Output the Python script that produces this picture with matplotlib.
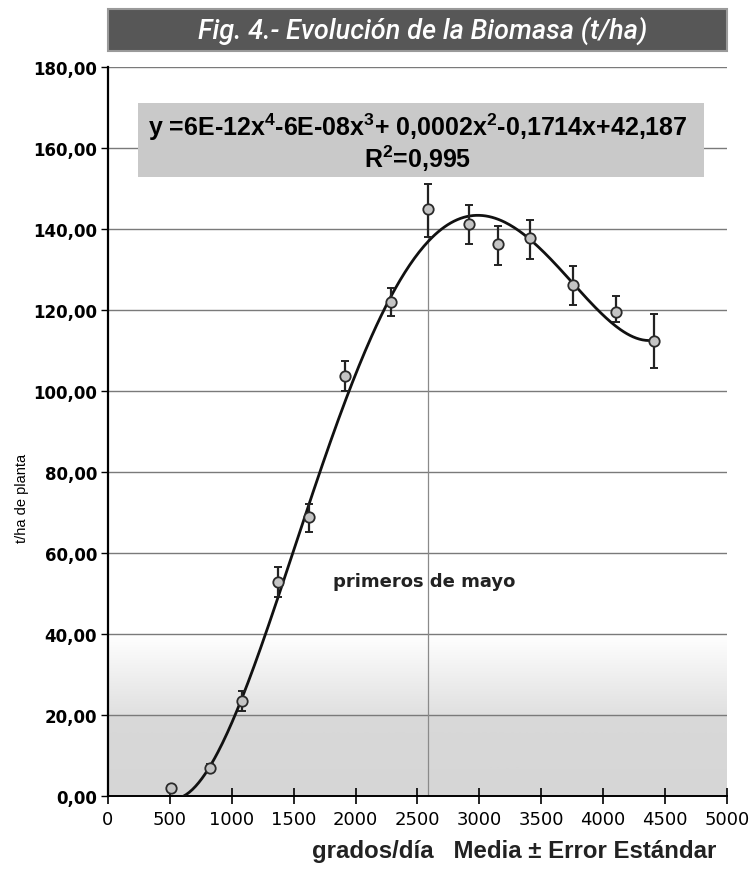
"""Fig. 4 - Evolucion de la Biomasa (t/ha): media +- error estandar y ajuste polinomico."""
import numpy as np
import matplotlib
matplotlib.use("Agg")
import matplotlib.pyplot as plt
from matplotlib.patches import Rectangle
from matplotlib.colors import LinearSegmentedColormap

plt.rcParams["mathtext.fontset"] = "custom"
plt.rcParams["mathtext.rm"] = "Liberation Sans:bold"
plt.rcParams["mathtext.it"] = "Liberation Sans:bold"

# grados/dia, biomasa media (t/ha) y limites de la barra de error
gdias = [509, 824, 1082, 1373, 1624, 1914, 2286, 2585, 2916, 3150, 3408, 3756, 4103, 4410]
biomasa = [2.0, 6.9, 23.5, 52.8, 68.9, 103.7, 122.0, 145.0, 141.2, 136.3, 137.8, 126.2, 119.5, 112.3]
err_hi = [0.8, 1.0, 2.5, 3.7, 3.2, 3.7, 3.5, 6.0, 4.8, 4.4, 4.4, 4.7, 4.0, 6.7]
err_lo = [0.8, 1.0, 2.5, 3.7, 3.7, 3.7, 3.5, 7.0, 4.9, 5.3, 5.2, 5.0, 2.5, 6.6]

# linea de tendencia tal como se ve en la figura (polinomio de grado 4)
ajuste_x = [580, 816, 1082, 1365, 1624, 1914, 2286, 2585, 2950, 3408, 3756, 4103, 4410]
ajuste_y = [0.0, 6.5, 22.5, 51.5, 69.0, 100.0, 120.7, 138.3, 143.3, 137.5, 125.5, 117.5, 112.0]

yticks = np.arange(0, 181, 20)
xticks = np.arange(0, 5001, 500)

TITULO = "Fig. 4.- Evolución de la Biomasa (t/ha)"
ECUACION = r"y =6E-12x$^4$-6E-08x$^3$+ 0,0002x$^2$-0,1714x+42,187"
R2 = r"R$^2$=0,995"

fig = plt.figure(figsize=(7.5, 8.87), dpi=100)
ax = fig.add_axes([0.144, 0.1015, 0.825, 0.8218])
ax.set_xlim(0, 5000)
ax.set_ylim(0, 180)

# fondo degradado gris en la parte baja
grad = np.linspace(0, 1, 200).reshape(-1, 1)
cmap = LinearSegmentedColormap.from_list("g", ["#d4d4d4", "#d9d9d9", "#ececec", "#ffffff"])
top = np.where(grad < 0.5, 0.15 + grad * 0.3, 0.45 + (grad - 0.5) * 1.1)
ax.imshow(top, extent=[0, 5000, 0, 40], origin="lower", aspect="auto",
          cmap=cmap, vmin=0, vmax=1, zorder=0)

for yv in yticks[1:]:
    ax.axhline(yv, color="#7a7a7a", lw=1.0, zorder=1)
ax.vlines(gdias[7], 0, biomasa[7], color="#8a8a8a", lw=0.9, zorder=1)

coef = np.polyfit(ajuste_x, ajuste_y, 4)
xs = np.linspace(ajuste_x[0], ajuste_x[-1], 300)
ax.plot(xs, np.polyval(coef, xs), color="#111111", lw=2.0, zorder=3)

ax.errorbar(gdias, biomasa, yerr=[err_lo, err_hi], fmt="none", ecolor="#222222",
            elinewidth=1.6, capsize=3, capthick=1.4, zorder=4)
ax.plot(gdias, biomasa, "o", ms=7.5, mfc="#c4c4c4", mec="#2a2a2a", mew=1.3, zorder=5)

ax.set_yticks(yticks)
ax.set_yticklabels([f"{v:.2f}".replace(".", ",") for v in yticks],
                   fontsize=12, fontweight="bold")
ax.set_xticks(xticks)
ax.set_xticklabels([str(v) for v in xticks], fontsize=13)
ax.tick_params(axis="x", direction="inout", length=12, width=1.2, pad=4)
ax.tick_params(axis="y", direction="out", length=5, width=1.0, pad=3)
for s in ("top", "right"):
    ax.spines[s].set_visible(False)
ax.spines["left"].set_linewidth(1.6)
ax.spines["bottom"].set_linewidth(1.4)

ax.text(2552, 53.1, "primeros de mayo", ha="center", va="center",
        fontsize=13, fontweight="bold", color="#222222", zorder=6)

# caja de la ecuacion
fig.patches.append(Rectangle((138 / 750, 1 - 178 / 887), 566 / 750, 74 / 887,
                             transform=fig.transFigure, facecolor="#c9c9c9",
                             edgecolor="none", zorder=5))
fig.text(418 / 750, 1 - 127 / 887, ECUACION, ha="center", va="center",
         fontsize=18, family="Liberation Sans", fontweight="bold", zorder=6)
fig.text(418 / 750, 1 - 159 / 887, R2, ha="center", va="center",
         fontsize=18, family="Liberation Sans", fontweight="bold", zorder=6)

# banda del titulo
fig.patches.append(Rectangle((108 / 750, 1 - 52 / 887), 619 / 750, 42 / 887,
                             transform=fig.transFigure, facecolor="#575757",
                             edgecolor="#9a9a9a", lw=1.5, zorder=5))
fig.text(423 / 750, 1 - 31 / 887, TITULO, ha="center", va="center", color="white",
         fontsize=19.5, style="italic", family=["Roboto", "DejaVu Sans"],
         fontweight="medium", zorder=6)

fig.text(22 / 750, 1 - 498 / 887, "t/ha de planta", rotation=90, ha="center", va="center",
         fontsize=10.5, family="Liberation Sans")
fig.text(514 / 750, 1 - 852 / 887, "grados/día   Media ± Error Estándar", ha="center",
         va="center", fontsize=17.3, family="Liberation Sans", fontweight="bold",
         color="#222222")

fig.savefig("out.png", dpi=100)
